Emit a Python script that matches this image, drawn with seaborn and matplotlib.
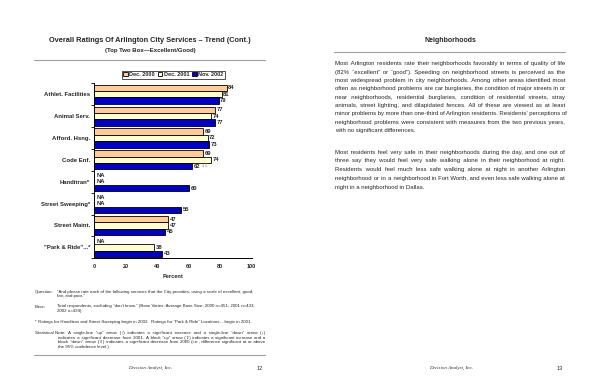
import numpy as np
import pandas as pd
import matplotlib
matplotlib.use("Agg")
import matplotlib.pyplot as plt
from matplotlib.patches import Patch
import seaborn as sns

sns.set_style("white")
plt.rcParams['font.family'] = ['Liberation Sans', 'DejaVu Sans']

# data
services = ["Athlet. Facilities", "Animal Serv.", "Afford. Hsng.", "Code Enf.",
            "Handitran*", "Street Sweeping*", "Street Maint.", "\"Park & Ride\"...*"]
years = ["Dec. 2000", "Dec. 2001", "Nov. 2002"]
dec_2000 = [84, 77, 69, 69, np.nan, np.nan, 47, np.nan]
dec_2001 = [81, 74, 72, 74, np.nan, np.nan, 47, 38]
nov_2002 = [79, 77, 73, 62, 60, 55, 45, 43]
colors = ["#FFCC99", "#FFFFCC", "#0000CC"]
sig_flags = {("Code Enf.", "Nov. 2002"): "\u2193\u21e9"}

df = pd.DataFrame({"service": services * 3,
                   "year": np.repeat(years, len(services)),
                   "pct": dec_2000 + dec_2001 + nov_2002})

W, H = 600, 388
fig = plt.figure(figsize=(6, 3.88), dpi=100)
renderer = fig.canvas.get_renderer()


def px(x):
    return x / W


def py(y):
    return 1 - y / H


def text_w(t):
    return t.get_window_extent(renderer).width


def justify(line, x0, x1, y, **kw):
    # one text per line, padded with hair spaces so it runs from x0 to x1
    words = line.split()
    t = fig.text(px(x0), py(y), " ".join(words), va='baseline', ha='left', **kw)
    a = fig.text(0, 0, "aa", **kw)
    b = fig.text(0, 0, "a\u200aa", **kw)
    hair = text_w(b) - text_w(a)
    a.remove()
    b.remove()
    extra = (x1 - x0) - text_w(t)
    gaps = len(words) - 1
    if hair <= 0.05 or extra <= 0 or gaps < 1:
        return t
    n = int(round(extra / hair))
    base, rem = divmod(n, gaps)
    out = words[0]
    for k, w in enumerate(words[1:]):
        out += " " + "\u200a" * (base + (1 if k < rem else 0)) + w
    t.set_text(out)
    return t


def hline(y, x0, x1):
    fig.add_artist(plt.Line2D([px(x0), px(x1)], [py(y), py(y)],
                              color='#a0a0a0', lw=0.8))


# ---------------- left page ----------------
fig.text(px(150), py(41), "Overall Ratings Of Arlington City Services \u2013 Trend (Cont.)",
         ha='center', va='center', fontsize=5.3, fontweight='bold')
fig.text(px(150), py(50.5), "(Top Two Box\u2014Excellent/Good)",
         ha='center', va='center', fontsize=4.3, fontweight='bold')
hline(60, 34, 265)

ax = fig.add_axes([px(94.3), py(258.3), (251.7 - 94.3) / W, (258.3 - 83.3) / H])
sns.barplot(data=df.dropna(), x="pct", y="service", hue="year",
            order=services, hue_order=years, palette=colors, orient='h',
            width=0.87, edgecolor='black', linewidth=0.6, saturation=1,
            legend=False, ax=ax)
ax.set_xlim(0, 100)
ax.set_ylim(len(services) - 0.5, -0.5)
ax.set_xticks(range(0, 101, 20))
ax.set_ylabel("")
ax.set_xlabel("Percent", fontsize=4.1, fontweight='bold', labelpad=3.5)
for s in ["top", "right"]:
    ax.spines[s].set_visible(False)
for s in ["left", "bottom"]:
    ax.spines[s].set_color('black')
    ax.spines[s].set_linewidth(0.7)
ax.tick_params(axis='x', length=2, width=0.6, pad=2, labelsize=4, color='black')
ax.tick_params(axis='y', length=0, pad=3, labelsize=4.3)
ax.set_yticks(np.arange(-0.5, len(services), 1.0), minor=True)
ax.tick_params(axis='y', which='minor', length=2, width=0.6, color='black', left=True)
for lab in ax.get_xticklabels() + ax.get_yticklabels():
    lab.set_fontweight('bold')

bar_h = 0.87 / 3
for i, svc in enumerate(services):
    for j, (yr, vals) in enumerate(zip(years, [dec_2000, dec_2001, nov_2002])):
        v = vals[i]
        yy = i + (j - 1) * bar_h
        if np.isnan(v):
            ax.text(1.2, yy, "NA", va='center', ha='left', fontsize=4.2, fontweight='bold')
        else:
            ax.text(v + 1.0, yy, f"{v:.0f}", va='center', ha='left',
                    fontsize=4.2, fontweight='bold')
            if (svc, yr) in sig_flags:
                ax.text(v + 5.6, yy, sig_flags[(svc, yr)], va='center', ha='left',
                        fontsize=3.6, color='#808080', family='DejaVu Sans')

handles = [Patch(facecolor=c, edgecolor='black', lw=0.6) for c in colors]
leg = fig.legend(handles, years, loc='center', bbox_to_anchor=(px(173.5), py(74.6)),
                 ncol=3, fontsize=4.0, frameon=True, fancybox=False,
                 handlelength=0.8, handleheight=0.8, handletextpad=0.3,
                 columnspacing=0.5, borderpad=0.25, borderaxespad=0)
leg.get_frame().set_edgecolor('black')
leg.get_frame().set_linewidth(0.6)
for t in leg.get_texts():
    t.set_fontweight('bold')

# footnotes (y values are baselines)
fs_note = 3.15
fn = dict(fontsize=fs_note, va='baseline', ha='left')
fig.text(px(35), py(292.5), "Question:", **fn)
fig.text(px(57), py(292.5), "\u201cAnd please rate each of the following services that the City provides, "
         "using a scale of excellent, good,", **fn)
fig.text(px(57), py(297.2), "fair, and poor.\u201d", **fn)
fig.text(px(35), py(307.5), "Base:", **fn)
fig.text(px(57), py(307.5), "Total respondents, excluding \u201cdon't know.\u201d (Base Varies; "
         "Average Base Size: 2000 n=451; 2001 n=433;", **fn)
fig.text(px(57), py(312.2), "2002 n=434)", **fn)
fig.text(px(35), py(322.5), "* Ratings for Handitran and Street Sweeping begin in 2002.  Ratings for "
         "\u201cPark & Ride\u201d Locations... begin in 2001.", **fn)
lab = fig.text(px(35), py(333.8), "Statistical Note:", **fn)
first_x = max(58, 35 + text_w(lab) + 2.5)
fj = dict(fontsize=fs_note)
justify("A single-line \u201cup\u201d arrow (\u2191) indicates a significant increase and a "
        "single-line \u201cdown\u201d arrow (\u2193)", first_x, 265, 333.8, **fj)
justify("indicates a significant decrease from 2001.  A block \u201cup\u201d arrow (\u21e7) "
        "indicates a significant increase and a", 58, 265, 338.5, **fj)
justify("block \u201cdown\u201d arrow (\u21e9) indicates a significant decrease from 2000 "
        "(i.e., difference significant at or above", 58, 265, 343.2, **fj)
fig.text(px(58), py(347.9), "the 95% confidence level.)", **fn)
hline(355, 34, 265)

foot = dict(fontsize=3.6, family='Liberation Serif', style='italic', ha='center', va='center')
fig.text(px(150), py(368), "Decision Analyst, Inc.", **foot)
fig.text(px(260), py(368), "12", fontsize=4, ha='center', va='center')

# ---------------- right page ----------------
fig.text(px(450), py(40), "Neighborhoods", ha='center', va='center',
         fontsize=5, fontweight='bold')
hline(52, 334, 565)

para1 = [
    "Most Arlington residents rate their neighborhoods favorably in terms of quality of life",
    "(82% \u201cexcellent\u201d or \u201cgood\u201d).  Speeding on neighborhood streets is perceived as the",
    "most widespread problem in city neighborhoods.  Among other areas identified most",
    "often as neighborhood problems are car burglaries, the condition of major streets in or",
    "near neighborhoods, residential burglaries, condition of residential streets, stray",
    "animals, street lighting, and dilapidated fences.  All of these are viewed as at least",
    "minor problems by more than one-third of Arlington residents.  Residents' perceptions of",
    "neighborhood problems were consistent with measures from the two previous years,",
    "with no significant differences.",
]
para2 = [
    "Most residents feel very safe in their neighborhoods during the day, and one out of",
    "three say they would feel very safe walking alone in their neighborhood at night.",
    "Residents would feel much less safe walking alone at night in another Arlington",
    "neighborhood or in a neighborhood in Fort Worth, and even less safe walking alone at",
    "night in a neighborhood in Dallas.",
]
body = dict(fontsize=4.3)
for lines, y0, step in [(para1, 65.3, 8.33), (para2, 153.7, 8.75)]:
    for k, line in enumerate(lines):
        y = y0 + k * step
        if k < len(lines) - 1:
            justify(line, 335, 565, y, **body)
        else:
            fig.text(px(335), py(y), line, va='baseline', ha='left', **body)

fig.text(px(451), py(368), "Decision Analyst, Inc.", **foot)
fig.text(px(560), py(368), "13", fontsize=4, ha='center', va='center')

fig.savefig("out.png", dpi=100)
